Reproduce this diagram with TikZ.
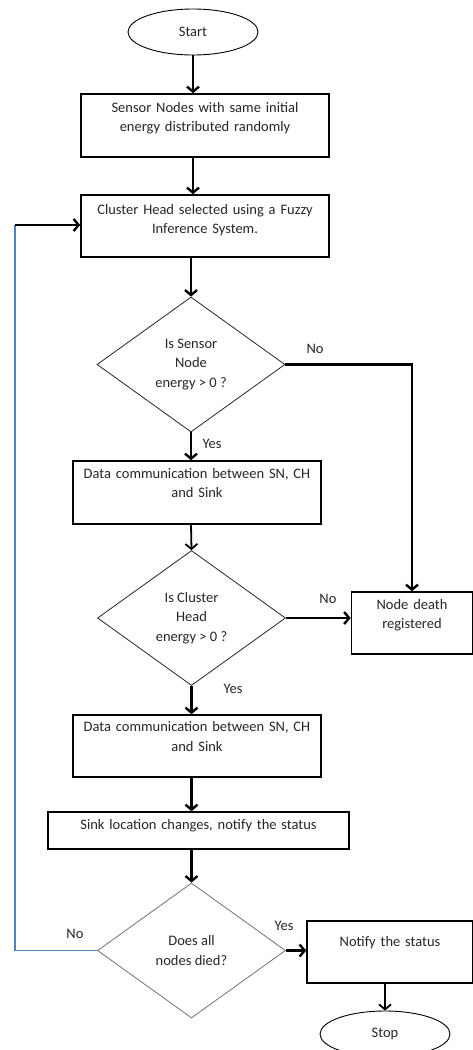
\documentclass[tikz,border=0pt]{standalone}
\usepackage{fontspec}
\setmainfont{Carlito}
\usetikzlibrary{shapes.geometric,arrows.meta}
\definecolor{bluloop}{HTML}{4F81BD}

\begin{document}
\begin{tikzpicture}[x=1pt, y=-1pt,
	every node/.style={font=\fontsize{14.5}{19.5}\selectfont, text=black!85},
	terminale/.style={ellipse, draw, line width=0.9pt, minimum width=130pt, minimum height=46pt, inner sep=0pt},
	blocco/.style={rectangle, draw, line width=1.6pt, align=center, text depth=37pt, inner sep=2pt},
	decisione/.style={diamond, draw=black!85, line width=0.8pt, align=center, minimum width=188pt, minimum height=135pt, inner sep=0pt},
	freccia/.style={-{Straight Barb[length=5pt,width=12pt]}, line width=2.4pt, black},
	ritorno/.style={line width=1.4pt, bluloop},
	etich/.style={font=\fontsize{14.5}{16}\selectfont},
	]
	
	\useasboundingbox (0,0) rectangle (473,1050);
	
	%% colonna principale
	\node[terminale] (start) at (193,32) {Start};
	\node[blocco, minimum width=248pt, text width=240pt, minimum height=63pt] (sensori) at (205,125.5)
		{Sensor Nodes with same initial\\energy distributed randomly};
	\node[blocco, minimum width=248pt, text width=240pt, minimum height=62pt, text depth=34pt] (sceltach) at (205,226)
		{Cluster Head selected using a Fuzzy\\Inference System.};
	\node[decisione] (dsn) at (191,364.5) {Is Sensor\\Node\\energy > 0 ?};
	\node[blocco, minimum width=248pt, text width=240pt, minimum height=63pt, text depth=39pt] (dati1) at (197,492.5)
		{Data communication between SN, CH\\and Sink};
	\node[decisione] (dch) at (191.5,618) {Is Cluster\\Head\\energy > 0 ?};
	\node[blocco, minimum width=248pt, text width=240pt, minimum height=62pt, text depth=39pt] (dati2) at (197,746)
		{Data communication between SN, CH\\and Sink};
	\node[blocco, minimum width=301pt, text width=293pt, minimum height=37pt, text depth=12pt] (pozzo) at (198.5,830.5)
		{Sink location changes, notify the status};
	\node[decisione, draw=black!55] (dmorti) at (191.5,950.5) {Does all\\nodes died?};
	
	%% colonna destra
	\node[blocco, minimum width=121pt, text width=113pt, minimum height=62pt, text depth=38pt] (morte) at (412,623)
		{Node death\\registered};
	\node[blocco, minimum width=166pt, text width=158pt, minimum height=62pt, text depth=22pt] (notifica) at (390,952)
		{Notify the status};
	\node[terminale] (stop) at (385,1034) {Stop};
	
	% ritorno alla scelta del CH
	\coordinate (angolo) at (15,225);
	
	%% collegamenti
	\draw[freccia] (start) -- (start |- sensori.north);
	\draw[freccia] (sensori.south -| start) -- (sceltach.north -| start);
	\draw[freccia] (sceltach.south -| dsn) -- (dsn.north);
	\draw[freccia] (dsn.south) -- (dati1.north -| dsn);
	\draw[freccia, line width=1.8pt] (dati1.south -| dsn) -- (dch.north);
	\draw[freccia] (dch.south) -- (dati2.north -| dch);
	\draw[freccia] (dati2.south -| dch) -- (pozzo.north -| dch);
	\draw[freccia] (pozzo.south -| dch) -- (dmorti.north);
	\draw[freccia] (dsn.east) -| (morte.north);
	\draw[freccia] (dch.east) -- (dch.east -| morte.west);
	\draw[freccia] (dmorti.east) -- (dmorti.east -| notifica.west);
	\draw[freccia, line width=1.8pt] (stop.north |- notifica.south) -- (stop.north);
	\draw[ritorno] (dmorti.west) -| (angolo);
	\draw[freccia] (angolo) -- (angolo -| sceltach.west);
	
	%% etichette
	\node[etich] (no1) at (315,349) {No};
	\node[etich] (si1) at (212,444) {Yes};
	\node[etich] (no2) at (328,599) {No};
	\node[etich] (si2) at (233,689) {Yes};
	\node[etich] (no3) at (75,934) {No};
	\node[etich] (si3) at (284,926) {Yes};
	
\end{tikzpicture}
\end{document}
